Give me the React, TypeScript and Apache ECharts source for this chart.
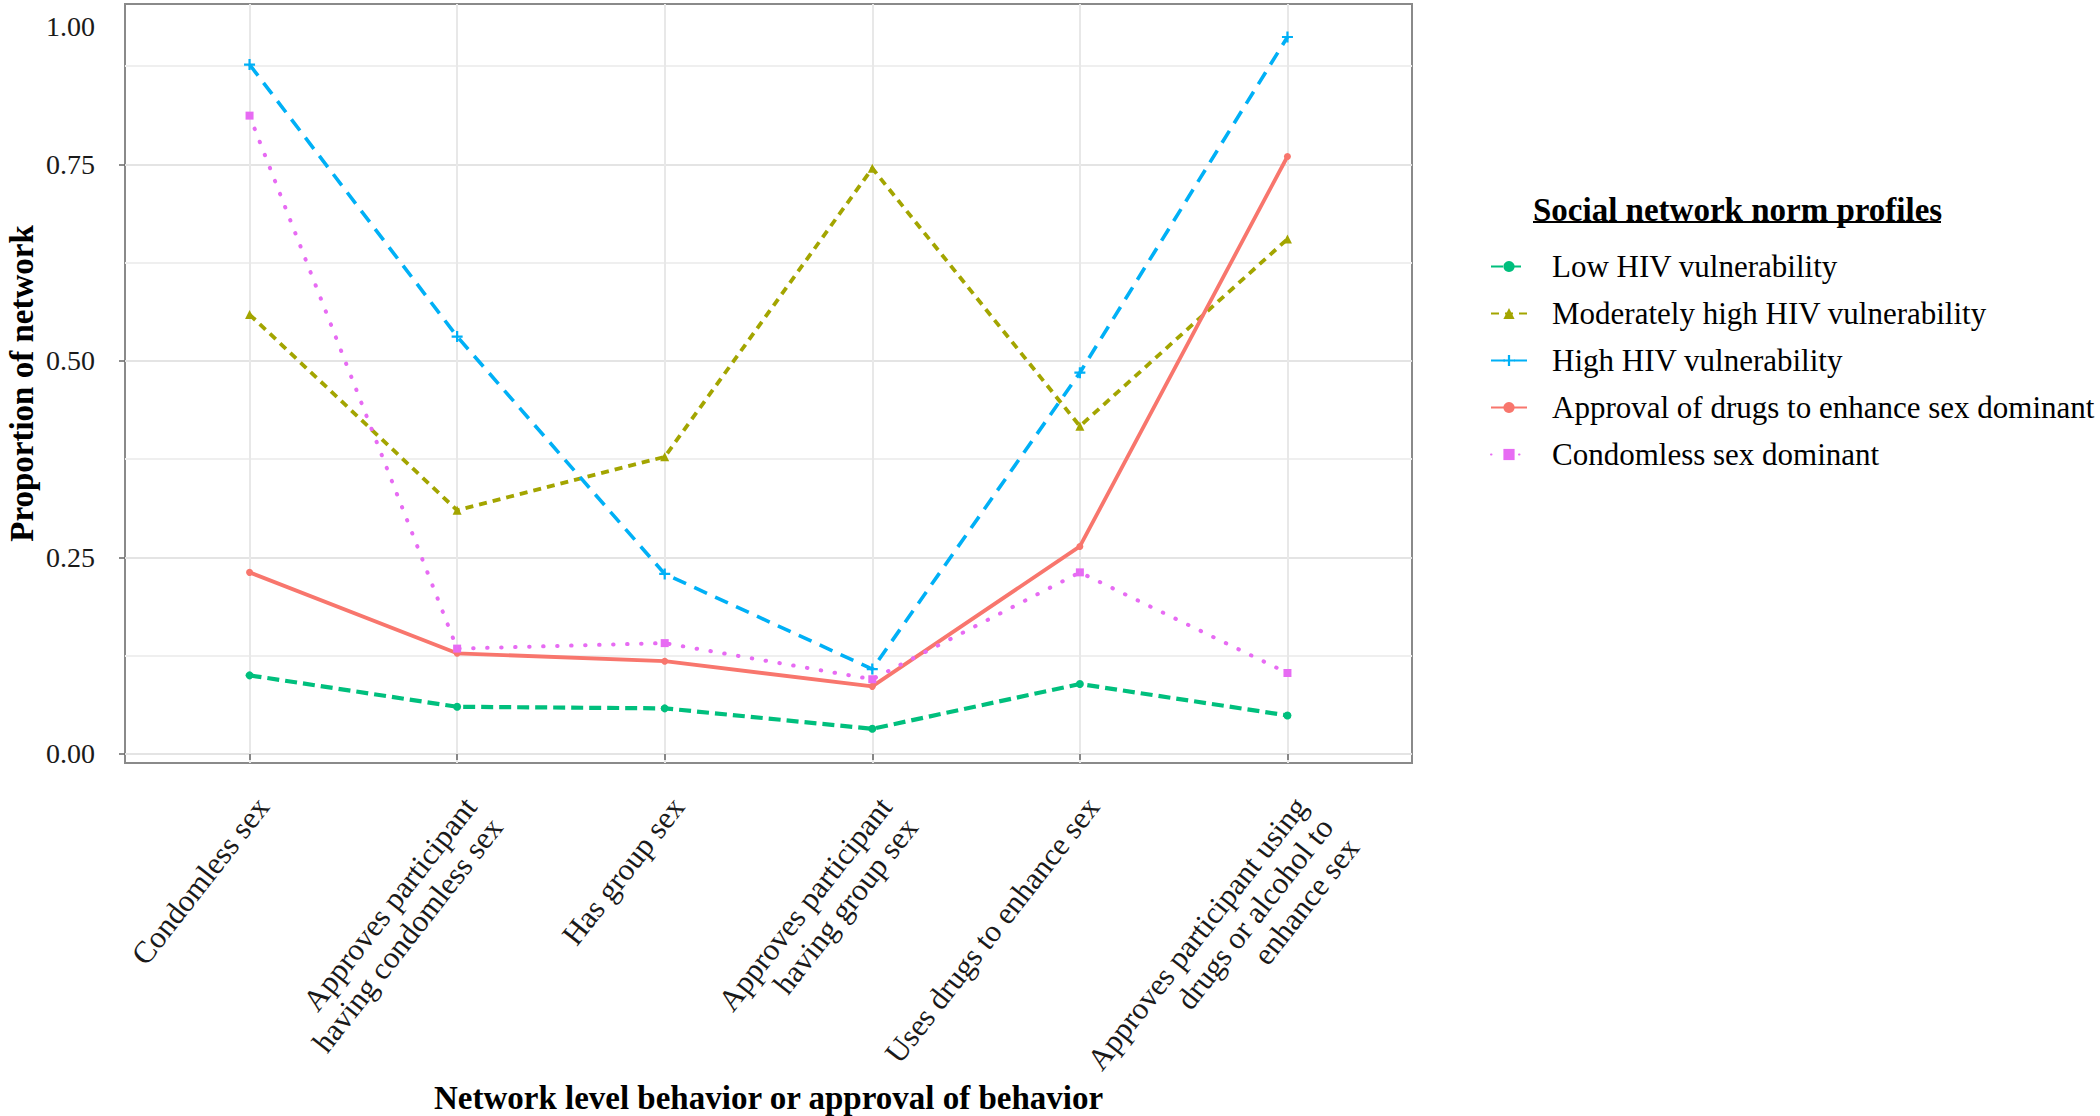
import React, { useEffect, useRef } from 'react';
import * as echarts from 'echarts';

const FONT = '"Liberation Serif", "Times New Roman", Times, serif';

// Categories (x axis)
const categories = [
  'Condomless sex',
  'Approves participant\nhaving condomless sex',
  'Has group sex',
  'Approves participant\nhaving group sex',
  'Uses drugs to enhance sex',
  'Approves participant using\ndrugs or alcohol to\nenhance sex',
];

// Series values (proportion of network)
const lowHIV = [0.1, 0.06, 0.058, 0.032, 0.089, 0.049];
const moderateHIV = [0.559, 0.31, 0.378, 0.745, 0.417, 0.655];
const highHIV = [0.877, 0.531, 0.229, 0.108, 0.485, 0.912];
const approvalDrugs = [0.231, 0.128, 0.118, 0.086, 0.264, 0.76];
const condomlessDominant = [0.812, 0.134, 0.141, 0.095, 0.231, 0.103];

const seriesNames = [
  'Low HIV vulnerability',
  'Moderately high HIV vulnerability',
  'High HIV vulnerability',
  'Approval of drugs to enhance sex dominant',
  'Condomless sex dominant',
];

// Y axis ticks
const yMajorTicks = [0, 0.25, 0.5, 0.75];
const yGridTicks = [0, 0.125, 0.25, 0.375, 0.5, 0.625, 0.75, 0.875];
const yTopLabelValue = 0.926; // where the "1.00" label sits in the figure
const yTopLabelText = '1.00';
const yMin = -0.0115;
const yMax = 0.954;
const xTicks = [0, 1, 2, 3, 4, 5];

const PLUS = 'path://M4,0H6V4H10V6H6V10H4V6H0V4H4Z';

const styles = [
  { color: '#00BF7D', dash: [12, 6], symbol: 'circle', size: 8, width: 4.2, cap: 'butt' },
  { color: '#A3A500', dash: [8, 6], symbol: 'triangle', size: 9, width: 3.8, cap: 'butt' },
  { color: '#00B0F6', dash: [14, 9], symbol: PLUS, size: 11, width: 3.6, cap: 'butt' },
  { color: '#F8766D', dash: 'solid', symbol: 'circle', size: 7, width: 3.8, cap: 'butt' },
  { color: '#E76BF3', dash: [0.5, 13.5], symbol: 'rect', size: 8, width: 4, cap: 'round' },
];

const values = [lowHIV, moderateHIV, highHIV, approvalDrugs, condomlessDominant];

function buildOption() {
  const series = values.map((vals, i) => ({
    name: seriesNames[i],
    type: 'line',
    xAxisIndex: 0,
    yAxisIndex: 0,
    data: vals.map((v, j) => [j, v]),
    symbol: styles[i].symbol,
    symbolSize: styles[i].size,
    showSymbol: true,
    itemStyle: { color: styles[i].color },
    lineStyle: {
      color: styles[i].color,
      width: styles[i].width,
      type: styles[i].dash,
      cap: styles[i].cap,
    },
    z: 3,
  }));

  return {
    animation: false,
    backgroundColor: '#ffffff',
    textStyle: { fontFamily: FONT },
    title: {
      text: 'Social network norm profiles',
      left: 1533,
      top: 193,
      padding: 0,
      textStyle: {
        fontFamily: FONT,
        fontWeight: 'bold',
        fontSize: 33,
        lineHeight: 33,
        color: '#000',
      },
    },
    graphic: [
      {
        type: 'line',
        shape: { x1: 1533, y1: 222, x2: 1941, y2: 222 },
        style: { stroke: '#000', lineWidth: 2 },
        silent: true,
      },
    ],
    legend: {
      orient: 'vertical',
      left: 1490,
      top: 251,
      padding: 0,
      itemWidth: 36,
      itemHeight: 14,
      itemGap: 16,
      data: seriesNames,
      textStyle: {
        fontFamily: FONT,
        fontSize: 31,
        lineHeight: 31,
        color: '#000',
        padding: [0, 0, 0, 20],
      },
    },
    grid: {
      left: 125,
      top: 4,
      width: 1287,
      height: 759,
      show: true,
      borderColor: '#8a8a8a',
      borderWidth: 2,
      backgroundColor: 'transparent',
      containLabel: false,
      outerBoundsMode: 'none',
    },
    xAxis: {
      type: 'value',
      min: -0.6,
      max: 5.6,
      name: 'Network level behavior or approval of behavior',
      nameLocation: 'middle',
      nameGap: 318,
      nameMoveOverlap: false,
      nameTextStyle: {
        fontFamily: FONT,
        fontWeight: 'bold',
        fontSize: 33,
        color: '#000',
      },
      axisLine: { show: false },
      axisTick: {
        show: true,
        customValues: xTicks,
        length: 6,
        lineStyle: { color: '#666', width: 1.5 },
      },
      axisLabel: {
        customValues: xTicks,
        formatter: (v: number) => categories[Math.round(v)] ?? '',
        rotate: 52,
        align: 'right',
        verticalAlign: 'top',
        margin: 28,
        fontFamily: FONT,
        fontSize: 31,
        lineHeight: 33,
        color: '#1a1a1a',
      },
      splitLine: { show: true, lineStyle: { color: '#e8e8e8', width: 2 } },
    },
    yAxis: [
      {
        type: 'value',
        min: yMin,
        max: yMax,
        position: 'left',
        axisLine: { show: false },
        axisTick: { show: false, customValues: yGridTicks },
        axisLabel: { show: false },
        splitLine: {
          show: true,
          lineStyle: { color: ['#e4e4e4', '#efefef'], width: 2 },
        },
      },
      {
        type: 'value',
        min: yMin,
        max: yMax,
        position: 'left',
        name: 'Proportion of network',
        nameLocation: 'middle',
        nameGap: 87,
        nameMoveOverlap: false,
        nameTextStyle: {
          fontFamily: FONT,
          fontWeight: 'bold',
          fontSize: 33,
          color: '#000',
        },
        axisLine: { show: false },
        axisTick: {
          show: true,
          customValues: yMajorTicks,
          length: 6,
          lineStyle: { color: '#666', width: 1.5 },
        },
        axisLabel: {
          customValues: [...yMajorTicks, yTopLabelValue],
          formatter: (v: number) => (v > 0.9 ? yTopLabelText : v.toFixed(2)),
          margin: 30,
          fontFamily: FONT,
          fontSize: 28,
          color: '#1a1a1a',
        },
        splitLine: { show: false },
      },
    ],
    series,
  };
}

export default function App() {
  const ref = useRef<HTMLDivElement>(null);
  useEffect(() => {
    if (!ref.current) return;
    const chart = echarts.init(ref.current, null, { renderer: 'svg' });
    chart.setOption(buildOption() as any);
    return () => {
      chart.dispose();
    };
  }, []);
  return (
    <div
      ref={ref}
      style={{
        position: 'absolute',
        left: 0,
        top: 0,
        width: 2100,
        height: 1116,
        background: '#ffffff',
      }}
    />
  );
}
